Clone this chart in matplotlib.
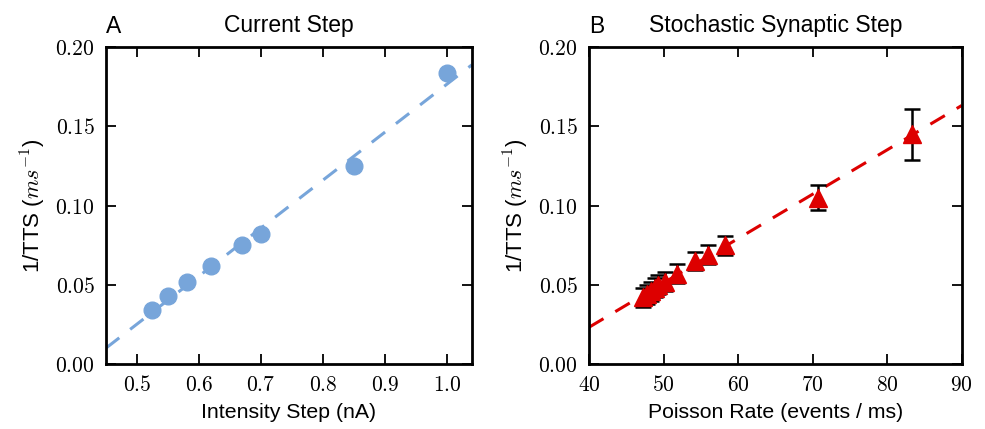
import matplotlib
matplotlib.use("Agg")
import matplotlib.pyplot as plt
import numpy as np
from matplotlib.ticker import FuncFormatter

plt.rcParams['font.family'] = ['Liberation Sans', 'DejaVu Sans']
plt.rcParams['mathtext.fontset'] = 'cm'

# Panel A data
intensity = [0.525, 0.55, 0.58, 0.62, 0.67, 0.70, 0.85, 1.0]
inv_tts_a = [0.034, 0.043, 0.052, 0.062, 0.075, 0.082, 0.125, 0.184]
fit_a_slope = 0.303
fit_a_intercept = -0.1263

# Panel B data
poisson_rate = [47.3, 47.8, 48.3, 48.8, 49.3, 50.2, 51.8, 54.2, 55.9, 58.3, 70.7, 83.3]
inv_tts_b = [0.042, 0.044, 0.046, 0.048, 0.050, 0.052, 0.057, 0.065, 0.069, 0.075, 0.105, 0.145]
err_b = [0.006, 0.006, 0.006, 0.006, 0.006, 0.006, 0.006, 0.0055, 0.006, 0.006, 0.0078, 0.016]
fit_b_slope = 0.0028
fit_b_intercept = -0.0888

fig = plt.figure(figsize=(9.85, 4.29), dpi=100)
axA = fig.add_axes([0.1076, 0.1515, 0.3714, 0.7385])
axB = fig.add_axes([0.598, 0.1515, 0.3784, 0.7385])

blue = '#77A5DA'
red = '#DD0000'

xa = np.array([0.45, 1.04])
axA.plot(xa, fit_a_slope * xa + fit_a_intercept, '--', color=blue, lw=2.2, dashes=(5.5, 4.5))
axA.plot(intensity, inv_tts_a, 'o', color=blue, ms=12, mec=blue)
axA.set_xlim(0.45, 1.04)
axA.set_ylim(0, 0.2)
axA.set_xticks([0.5, 0.6, 0.7, 0.8, 0.9, 1.0])
axA.xaxis.set_major_formatter(FuncFormatter(lambda v, p: r'$%.1f$' % v))
axA.set_xlabel('Intensity Step (nA)', fontsize=15.3, labelpad=5)
axA.set_title('Current Step', fontsize=16.5, pad=11)
axA.text(0.0, 1.03, 'A', transform=axA.transAxes, fontsize=16.5, ha='left', va='bottom')

xb = np.array([40, 90])
axB.plot(xb, fit_b_slope * xb + fit_b_intercept, '--', color=red, lw=2.2, dashes=(5.5, 4.5))
axB.errorbar(poisson_rate, inv_tts_b, yerr=err_b, fmt='^', color=red, ms=12.5, mec=red,
             ecolor='black', elinewidth=1.8, capsize=5.5, capthick=1.8, zorder=3)
axB.set_xlim(40, 90)
axB.set_ylim(0, 0.2)
axB.set_xticks([40, 50, 60, 70, 80, 90])
axB.xaxis.set_major_formatter(FuncFormatter(lambda v, p: r'$%d$' % v))
axB.set_xlabel('Poisson Rate (events / ms)', fontsize=15.3, labelpad=5)
axB.set_title('Stochastic Synaptic Step', fontsize=16.5, pad=11)
axB.text(0.0, 1.03, 'B', transform=axB.transAxes, fontsize=16.5, ha='left', va='bottom')

for ax in (axA, axB):
    ax.set_yticks([0.0, 0.05, 0.10, 0.15, 0.20])
    ax.yaxis.set_major_formatter(FuncFormatter(lambda v, p: r'$%.2f$' % v))
    ax.set_ylabel(r'1/TTS ($ms^{-1}$)', fontsize=16, labelpad=5)
    ax.tick_params(direction='in', length=7, width=1.3, top=True, right=True, labelsize=15.5, pad=8)
    for s in ax.spines.values():
        s.set_linewidth(2)

fig.savefig('out.png', dpi=100)
